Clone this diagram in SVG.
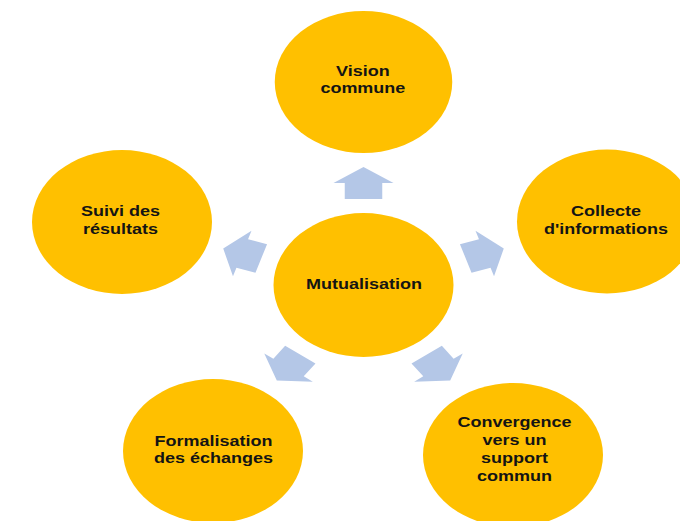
<svg xmlns="http://www.w3.org/2000/svg" xmlns:xlink="http://www.w3.org/1999/xlink" width="680" height="521" viewBox="0 0 680 521">
  <style>
    .node { fill: #FFC000; }
    .arrow { fill: #B4C7E7; }
    .label { font-family: "Liberation Sans", Arial, sans-serif; font-weight: bold; font-size: 14.4px; fill: #141414; text-anchor: middle; }
  </style>
  <defs>
    <!-- block arrow pointing up, away from the hub centre (363.5, 285) -->
    <polygon id="spoke" points="363.5,167 387.5,183 378.5,183 378.5,199 348.5,199 348.5,183 339.5,183"/>
  </defs>
  <rect width="680" height="521" fill="#FFFFFF"/>
  <!-- layout drawn on a circular grid, widened horizontally -->
  <g transform="translate(363.5,0) scale(1.25,1) translate(-363.5,0)">
    <g id="connectors" class="arrow">
      <use xlink:href="#spoke"/>
      <use xlink:href="#spoke" transform="rotate(72 363.5 285)"/>
      <use xlink:href="#spoke" transform="rotate(144 363.5 285)"/>
      <use xlink:href="#spoke" transform="rotate(216 363.5 285)"/>
      <use xlink:href="#spoke" transform="rotate(288 363.5 285)"/>
    </g>
    <g id="mutualisation">
      <circle class="node" cx="363.5" cy="285" r="72"/>
      <text class="label" x="363.9" y="289">Mutualisation</text>
    </g>
    <g id="vision-commune">
      <circle class="node" cx="363.5" cy="82" r="71"/>
      <text class="label" x="363" y="76">Vision</text>
      <text class="label" x="363" y="93">commune</text>
    </g>
    <g id="collecte">
      <circle class="node" cx="558.3" cy="221.5" r="72"/>
      <text class="label" x="557.5" y="216">Collecte</text>
      <text class="label" x="557.5" y="234">d'informations</text>
    </g>
    <g id="convergence">
      <circle class="node" cx="483.1" cy="455" r="72"/>
      <text class="label" x="484.3" y="427">Convergence</text>
      <text class="label" x="484.3" y="445">vers un</text>
      <text class="label" x="484.3" y="463">support</text>
      <text class="label" x="484.3" y="481">commun</text>
    </g>
    <g id="formalisation">
      <circle class="node" cx="243.1" cy="451" r="72"/>
      <text class="label" x="243.5" y="446">Formalisation</text>
      <text class="label" x="243.5" y="463">des échanges</text>
    </g>
    <g id="suivi">
      <circle class="node" cx="170.3" cy="222" r="72"/>
      <text class="label" x="169.1" y="216">Suivi des</text>
      <text class="label" x="169.1" y="234">résultats</text>
    </g>
  </g>
</svg>
